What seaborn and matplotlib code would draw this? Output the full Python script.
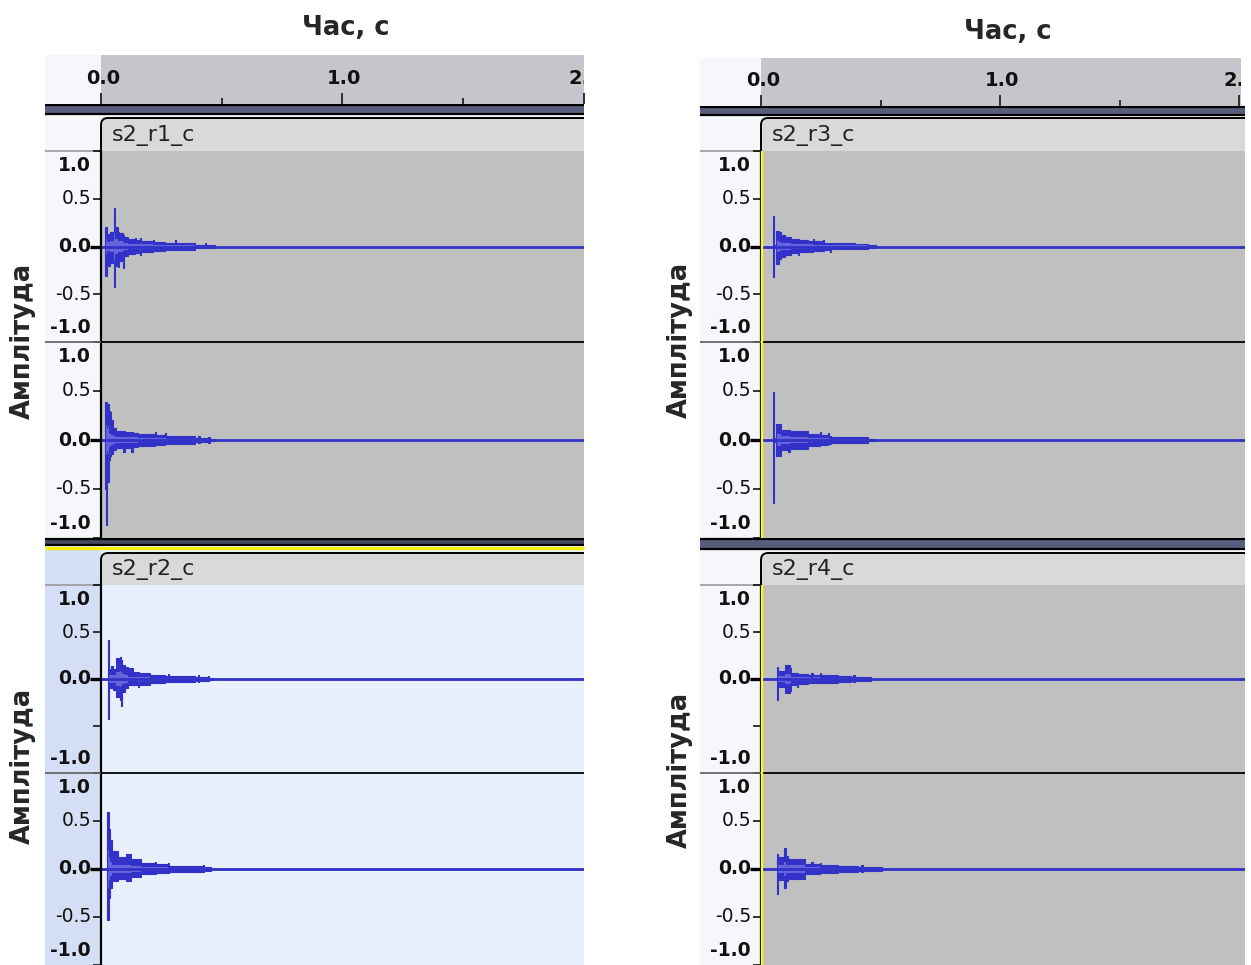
import matplotlib
matplotlib.use("Agg")
import matplotlib.pyplot as plt
from matplotlib.patches import Rectangle, FancyBboxPatch
import numpy as np
import pandas as pd
import seaborn as sns

sns.set_style("white")
plt.rcParams["font.family"] = ["DejaVu Sans"]

# ---------------------------------------------------------------- data
x_label = "Час, с"
y_label = "Амплітуда"
clip_names = ["s2_r1_c", "s2_r2_c", "s2_r3_c", "s2_r4_c"]

time_ticks = [0.0, 1.0, 2.0]
time_tick_labels = ["0.0", "1.0", "2.0"]
time_minor_ticks = [0.5, 1.5]

amp_ticks = [-1.0, -0.5, 0.0, 0.5, 1.0]
amp_tick_labels = ["-1.0", "-0.5", "0.0", "0.5", "1.0"]

# peak envelopes: segment start time (s), max and min amplitude of each segment
r1_ch1_t = [0.000, 0.018, 0.024, 0.036, 0.052, 0.058, 0.071, 0.076, 0.092, 0.097, 0.112, 0.139,
            0.144, 0.160, 0.165, 0.215, 0.220, 0.263, 0.304, 0.309, 0.387, 0.428, 0.433, 0.470, 2.100]
r1_ch1_max = [0.00, 0.20, 0.13, 0.15, 0.40, 0.20, 0.15, 0.14, 0.12, 0.10, 0.08, 0.09,
              0.07, 0.09, 0.06, 0.07, 0.05, 0.04, 0.07, 0.035, 0.018, 0.04, 0.015, 0.00, 0.00]
r1_ch1_min = [0.00, -0.31, -0.20, -0.17, -0.42, -0.20, -0.21, -0.15, -0.23, -0.10, -0.08, -0.07,
              -0.07, -0.09, -0.06, -0.05, -0.045, -0.04, -0.03, -0.035, -0.018, -0.02, -0.015, 0.00, 0.00]

r1_ch2_t = [0.000, 0.018, 0.022, 0.025, 0.029, 0.033, 0.036, 0.043, 0.050, 0.063, 0.091, 0.098, 0.125,
            0.132, 0.153, 0.222, 0.229, 0.263, 0.270, 0.387, 0.401, 0.408, 0.442, 0.449, 0.470, 2.100]
r1_ch2_max = [0.00, 0.39, 0.39, 0.37, 0.37, 0.30, 0.29, 0.20, 0.12, 0.09, 0.09, 0.085, 0.08,
              0.07, 0.06, 0.08, 0.055, 0.075, 0.04, 0.02, 0.04, 0.02, 0.035, 0.015, 0.00, 0.00]
r1_ch2_min = [0.00, -0.50, -0.87, -0.30, -0.43, -0.20, -0.16, -0.14, -0.10, -0.08, -0.12, -0.08, -0.12,
              -0.07, -0.06, -0.05, -0.05, -0.045, -0.04, -0.02, -0.03, -0.02, -0.03, -0.015, 0.00, 0.00]

r2_ch1_t = [0.000, 0.029, 0.034, 0.043, 0.050, 0.063, 0.077, 0.083, 0.087, 0.100, 0.112, 0.132, 0.153,
            0.158, 0.201, 0.263, 0.277, 0.282, 0.387, 0.401, 0.406, 0.442, 0.447, 0.463, 2.100]
r2_ch1_max = [0.00, 0.415, 0.11, 0.14, 0.11, 0.22, 0.23, 0.20, 0.15, 0.13, 0.12, 0.07, 0.07,
              0.06, 0.04, 0.035, 0.055, 0.03, 0.02, 0.04, 0.02, 0.035, 0.015, 0.00, 0.00]
r2_ch1_min = [0.00, -0.43, -0.10, -0.10, -0.12, -0.19, -0.22, -0.29, -0.14, -0.10, -0.06, -0.06, -0.09,
              -0.06, -0.04, -0.035, -0.035, -0.03, -0.02, -0.03, -0.02, -0.025, -0.015, 0.00, 0.00]

r2_ch2_t = [0.000, 0.026, 0.031, 0.037, 0.045, 0.070, 0.105, 0.125, 0.167, 0.222, 0.227, 0.277,
            0.282, 0.387, 0.420, 0.425, 0.456, 2.100]
r2_ch2_max = [0.00, 0.59, 0.42, 0.30, 0.19, 0.12, 0.16, 0.10, 0.06, 0.07, 0.05, 0.065,
              0.035, 0.03, 0.04, 0.02, 0.00, 0.00]
r2_ch2_min = [0.00, -0.53, -0.30, -0.20, -0.12, -0.10, -0.12, -0.08, -0.05, -0.05, -0.045, -0.04,
              -0.035, -0.03, -0.03, -0.02, 0.00, 0.00]

r3_ch1_t = [0.000, 0.049, 0.054, 0.064, 0.074, 0.085, 0.100, 0.127, 0.155, 0.161, 0.197, 0.218,
            0.223, 0.259, 0.265, 0.287, 0.293, 0.392, 0.448, 0.480, 2.100]
r3_ch1_max = [0.00, 0.32, 0.02, 0.16, 0.15, 0.12, 0.10, 0.08, 0.08, 0.07, 0.06, 0.075,
              0.055, 0.07, 0.04, 0.035, 0.035, 0.03, 0.015, 0.00, 0.00]
r3_ch1_min = [0.00, -0.32, -0.02, -0.18, -0.13, -0.11, -0.09, -0.065, -0.09, -0.06, -0.06, -0.05,
              -0.05, -0.045, -0.04, -0.06, -0.03, -0.03, -0.015, 0.00, 0.00]

r3_ch2_t = [0.000, 0.049, 0.054, 0.064, 0.085, 0.113, 0.120, 0.197, 0.246, 0.251, 0.280, 0.285,
            0.294, 0.392, 0.448, 0.480, 2.100]
r3_ch2_max = [0.00, 0.49, 0.02, 0.16, 0.10, 0.10, 0.087, 0.06, 0.08, 0.055, 0.075, 0.04,
              0.03, 0.03, 0.015, 0.00, 0.00]
r3_ch2_min = [0.00, -0.64, -0.02, -0.16, -0.10, -0.12, -0.09, -0.06, -0.05, -0.05, -0.045, -0.04,
              -0.035, -0.03, -0.015, 0.00, 0.00]

r4_ch1_t = [0.000, 0.066, 0.071, 0.099, 0.120, 0.127, 0.150, 0.155, 0.197, 0.211, 0.216, 0.246,
            0.251, 0.322, 0.378, 0.385, 0.392, 0.462, 2.100]
r4_ch1_max = [0.00, 0.13, 0.08, 0.15, 0.12, 0.06, 0.06, 0.05, 0.045, 0.065, 0.045, 0.06,
              0.04, 0.03, 0.02, 0.04, 0.02, 0.00, 0.00]
r4_ch1_min = [0.00, -0.22, -0.08, -0.15, -0.13, -0.06, -0.09, -0.05, -0.045, -0.04, -0.045, -0.04,
              -0.04, -0.03, -0.02, -0.035, -0.02, 0.00, 0.00]

r4_ch2_t = [0.000, 0.066, 0.071, 0.096, 0.106, 0.113, 0.183, 0.211, 0.216, 0.246, 0.251, 0.322,
            0.406, 0.420, 0.427, 0.506, 2.100]
r4_ch2_max = [0.00, 0.16, 0.12, 0.215, 0.14, 0.10, 0.05, 0.07, 0.05, 0.065, 0.04, 0.035,
              0.02, 0.04, 0.02, 0.00, 0.00]
r4_ch2_min = [0.00, -0.26, -0.11, -0.20, -0.12, -0.10, -0.05, -0.05, -0.05, -0.04, -0.04, -0.035,
              -0.02, -0.03, -0.02, 0.00, 0.00]

# ---------------------------------------------------------------- style
COL_LIGHT = "#f6f7fb"
COL_RULER = "#c5c6cb"
COL_BAR = "#595d7d"
COL_WAVE_BG = "#c0c0c0"
COL_HEAD = "#d9d9d9"
COL_SEL_BG = "#e9f0fd"
COL_SEL_LEFT = "#d4dff6"
COL_ENV = "#3232c8"
COL_RMS = "#6464dc"
COL_FOCUS = "#f2f000"

W, H = 1251, 965
fig = plt.figure(figsize=(W / 100, H / 100), dpi=100)


def frac(x0, y0, x1, y1):
    return [x0 / W, 1 - y1 / H, (x1 - x0) / W, (y1 - y0) / H]


bg = fig.add_axes([0, 0, 1, 1], zorder=0)
bg.set_xlim(0, W)
bg.set_ylim(H, 0)
bg.axis("off")

fg = fig.add_axes([0, 0, 1, 1], zorder=10)
fg.set_xlim(0, W)
fg.set_ylim(H, 0)
fg.axis("off")
fg.patch.set_alpha(0)

HEAD_ROWS = [(118, 151), (553, 585)]
CHANNEL_ROWS = [[(151, 342), (342, 538)], [(585, 773), (773, 965)]]
TRACK_SPAN = [(None, 538), (550, 965)]
SEP = (538, 550)
LABEL_POS = [-0.85, -0.5, 0.0, 0.5, 0.85]

panels = [
    dict(x0=45, xz=101, x1=584, rx1=584, pps=242, ruler=(55, 104), bar=(104, 115),
         title=(346, 28), ylab_x=23, ylab_y=[341, 766],
         clips=[(clip_names[0], (r1_ch1_t, r1_ch1_max, r1_ch1_min), (r1_ch2_t, r1_ch2_max, r1_ch2_min)),
                (clip_names[1], (r2_ch1_t, r2_ch1_max, r2_ch1_min), (r2_ch2_t, r2_ch2_max, r2_ch2_min))],
         selected=[False, True], cursor=False),
    dict(x0=700, xz=761, x1=1245, rx1=1241, pps=239, ruler=(58, 106), bar=(106, 116),
         title=(1008, 32), ylab_x=680, ylab_y=[340, 770],
         clips=[(clip_names[2], (r3_ch1_t, r3_ch1_max, r3_ch1_min), (r3_ch2_t, r3_ch2_max, r3_ch2_min)),
                (clip_names[3], (r4_ch1_t, r4_ch1_max, r4_ch1_min), (r4_ch2_t, r4_ch2_max, r4_ch2_min))],
         selected=[False, False], cursor=True),
]


def draw_channel(rect_px, env, xmax, face, hidden=()):
    t, vmax, vmin = env
    ax = fig.add_axes(frac(*rect_px), zorder=2)
    ax.set_facecolor(face)
    df = pd.DataFrame({"t": t, "max": vmax, "min": vmin})
    rms = 0.38 * np.minimum(df["max"], -df["min"])
    ax.fill_between(df["t"], df["min"], df["max"], step="post", color=COL_ENV, lw=0)
    ax.fill_between(df["t"], -rms, rms, step="post", color=COL_RMS, lw=0)
    sns.lineplot(data=df, x="t", y="max", drawstyle="steps-post", color=COL_ENV,
                 lw=0.8, ax=ax, legend=False)
    sns.lineplot(data=df, x="t", y="min", drawstyle="steps-post", color=COL_ENV,
                 lw=0.8, ax=ax, legend=False)
    ax.axhline(0, color=COL_ENV, lw=2.0, zorder=1)
    ax.set_xlim(0, xmax)
    ax.set_ylim(-1, 1)
    ax.set_xlabel("")
    ax.set_ylabel("")
    ax.set_xticks([])
    ax.set_yticks(amp_ticks)
    ax.tick_params(axis="y", which="major", direction="out", length=6, width=1.1,
                   color="black", left=True, labelleft=False)
    for tk, v in zip(ax.yaxis.get_major_ticks(), amp_ticks):
        if v == 0:
            tk.tick1line.set_markeredgewidth(2.4)
            tk.tick1line.set_markersize(8)
    for sp in ["top", "right", "bottom"]:
        ax.spines[sp].set_visible(False)
    ax.spines["left"].set_color("black")
    ax.spines["left"].set_linewidth(1.6)
    for pos, lab in zip(LABEL_POS, amp_tick_labels):
        if lab in hidden:
            continue
        weight = "normal" if lab in ("0.5", "-0.5") else "bold"
        ax.annotate(lab, xy=(0, pos), xycoords=("axes fraction", "data"),
                    xytext=(-10, 0), textcoords="offset pixels", ha="right",
                    va="center", fontsize=13.5, fontweight=weight, color="#111111",
                    annotation_clip=False)
    return ax


for p in panels:
    x0, xz, x1, pps = p["x0"], p["xz"], p["x1"], p["pps"]
    xmax = (x1 - xz) / pps

    # title
    bg.text(*p["title"], x_label, ha="center", va="center", fontsize=18.5,
            fontweight="bold")

    # time ruler
    r0, r1 = p["ruler"]
    rx1 = p["rx1"]
    rax = fig.add_axes(frac(x0, r0, rx1, r1), zorder=2)
    rax.set_axisbelow(False)
    rax.set_facecolor(COL_LIGHT)
    rax.axvspan(0, 10, color=COL_RULER, lw=0)
    rax.set_xlim(-(xz - x0) / pps, (rx1 - xz) / pps)
    rax.set_ylim(0, 1)
    rax.set_xticks(time_ticks)
    rax.set_xticks(time_minor_ticks, minor=True)
    rax.tick_params(axis="x", which="major", direction="in", length=8, width=1.3,
                    color="#222222", bottom=True, labelbottom=False)
    rax.tick_params(axis="x", which="minor", direction="in", length=4, width=1.3,
                    color="#222222", bottom=True)
    rax.set_yticks([])
    for sp in rax.spines.values():
        sp.set_visible(False)
    for tv, lab in zip(time_ticks, time_tick_labels):
        rax.text(tv + 0.008, 0.53, lab, ha="center", va="center", fontsize=14,
                 fontweight="bold", color="#111111", clip_on=True)

    # dark bar under the ruler
    b0, b1 = p["bar"]
    bg.add_patch(Rectangle((x0, b0), x1 - x0, b1 - b0, fc=COL_BAR, ec="none"))
    bg.hlines([b0 + 1, b1 - 1], x0, x1, color="black", lw=1.6)

    # track separator
    s0, s1 = SEP
    if p["selected"][1]:
        bg.add_patch(Rectangle((x0, s0), x1 - x0, 8, fc="#44475e", ec="none"))
        bg.hlines([s0 + 1, s0 + 7], x0, x1, color="black", lw=1.6)
        bg.hlines([s1 - 2], x0, x1, color=COL_FOCUS, lw=2.4)
    else:
        bg.add_patch(Rectangle((x0, s0), x1 - x0, s1 - s0, fc=COL_BAR, ec="none"))
        bg.hlines([s0 + 1, s1 - 1], x0, x1, color="black", lw=1.6)

    for k, (name, env1, env2) in enumerate(p["clips"]):
        sel = p["selected"][k]
        top = b1 if k == 0 else TRACK_SPAN[1][0]
        bottom = TRACK_SPAN[k][1]
        left_col = COL_SEL_LEFT if sel else COL_LIGHT
        face = COL_SEL_BG if sel else COL_WAVE_BG
        h0, h1 = HEAD_ROWS[k]

        bg.add_patch(Rectangle((x0, top), xz - x0, bottom - top, fc=left_col, ec="none"))
        bg.add_patch(Rectangle((xz, top), x1 - xz, h1 - top,
                               fc=COL_SEL_BG if sel else COL_LIGHT, ec="none"))
        bg.hlines([h1 - 0.5], x0, xz, color="#9a9a9a", lw=1.2)

        # clip title bar with rounded corner
        head = FancyBboxPatch((xz, h0), x1 - xz + 40, 60,
                              boxstyle="round,pad=0,rounding_size=7",
                              fc=COL_HEAD, ec="black", lw=1.4)
        clip = Rectangle((xz - 3, h0 - 3), x1 - xz + 3, h1 - h0 + 6,
                         transform=bg.transData)
        bg.add_patch(head)
        head.set_clip_path(clip)
        bg.text(xz + 11, (h0 + h1) / 2 + 1, name, ha="left", va="center",
                fontsize=16, color="#222222")

        # channels
        (c10, c11), (c20, c21) = CHANNEL_ROWS[k]
        hidden = ("-0.5",) if k == 1 else ()
        draw_channel((xz, c10, x1, c11), env1, xmax, face, hidden)
        draw_channel((xz, c20, x1, c21), env2, xmax, face)
        fg.hlines([c11], x0, xz, color="#666666", lw=1.3)
        fg.hlines([c11], xz, x1, color="black", lw=1.3)

        if p["cursor"]:
            fg.vlines([xz + 1], h1, bottom, color="#ffff00", lw=1.6)

        # amplitude axis title
        bg.text(p["ylab_x"], p["ylab_y"][k], y_label, rotation=90, ha="center",
                va="center", fontsize=18.5, fontweight="bold")

fig.savefig("out.png", dpi=100)
